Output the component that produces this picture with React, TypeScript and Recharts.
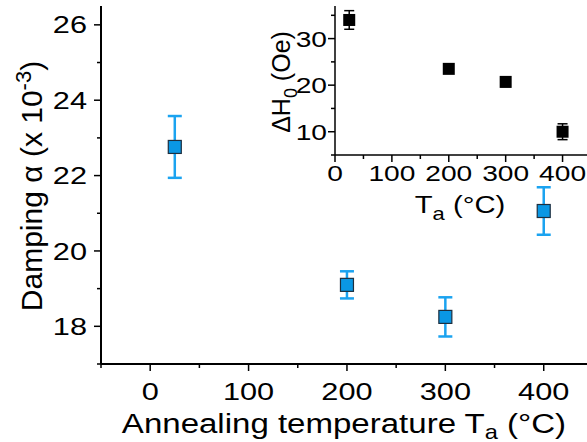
import React from 'react'
import { ScatterChart, Scatter, XAxis, YAxis, ErrorBar } from 'recharts'

// main panel: Gilbert damping vs annealing temperature
const temps = [25, 200, 300, 400]
const damping = [22.76, 19.1, 18.25, 21.06]
const dampingErr = [0.82, 0.36, 0.52, 0.63]

// inset: inhomogeneous linewidth
const insetTemps = [25, 200, 300, 400]
const dH0 = [34.0, 23.5, 20.7, 10.0]
const dH0Err = [2.0, 0.4, 1.0, 1.7]

const mainXTicks = [-50, 0, 50, 100, 150, 200, 250, 300, 350, 400]
const mainYTicks = [17, 18, 19, 20, 21, 22, 23, 24, 25, 26]
const insetXTicks = [0, 50, 100, 150, 200, 250, 300, 350, 400]
const insetYTicks = [5, 10, 15, 20, 25, 30, 35]

const mainData = temps.map((t, i) => ({ t, v: damping[i], e: dampingErr[i] }))
const insetData = insetTemps.map((t, i) => ({ t, v: dH0[i], e: dH0Err[i] }))

const FONT = '"Liberation Sans", Arial, sans-serif'

const WText = ({ x, y, size, sx = 1, sy = 1, rotate = 0, anchor = 'middle', children }: any) => (
  <text
    transform={`translate(${x},${y}) rotate(${rotate}) scale(${sx},${sy})`}
    fontSize={size}
    fontFamily={FONT}
    textAnchor={anchor}
    fill="#000"
  >
    {children}
  </text>
)

// ticks drawn by hand so minor ticks can be shorter
const bottomTick = (major: number, size: number, gap: number) => (p: any) => {
  const isMajor = p.payload.value % major === 0
  return (
    <g>
      <line x1={p.x} x2={p.x} y1={p.y} y2={p.y + (isMajor ? 7 : 4)} stroke="#000" strokeWidth={1.5} />
      {isMajor && (
        <WText x={p.x} y={p.y + gap} size={size} sx={1.28}>
          {p.payload.value}
        </WText>
      )}
    </g>
  )
}

const leftTick = (major: number, size: number, gap: number) => (p: any) => {
  const isMajor = p.payload.value % major === 0
  return (
    <g>
      <line x1={p.x - (isMajor ? 7 : 4)} x2={p.x} y1={p.y} y2={p.y} stroke="#000" strokeWidth={1.5} />
      {isMajor && (
        <WText x={p.x - gap} y={p.y + size * 0.36} size={size} sx={1.28} anchor="end">
          {p.payload.value}
        </WText>
      )}
    </g>
  )
}

const topTick = (major: number) => (p: any) => {
  const isMajor = p.payload.value % major === 0
  return <line x1={p.x} x2={p.x} y1={p.y} y2={p.y + (isMajor ? 7 : 4)} stroke="#000" strokeWidth={1.5} />
}

const rightTick = (major: number) => (p: any) => {
  const isMajor = p.payload.value % major === 0
  return <line x1={p.x - (isMajor ? 7 : 4)} x2={p.x} y1={p.y} y2={p.y} stroke="#000" strokeWidth={1.5} />
}

const BlueSquare = (p: any) => (
  <rect x={p.cx - 6.5} y={p.cy - 6.5} width={13} height={13} fill="#0a97e4" stroke="#1d2f3f" strokeWidth={1.2} />
)

const BlackSquare = (p: any) => <rect x={p.cx - 6} y={p.cy - 6} width={12} height={12} fill="#000" />

export default function App() {
  return (
    <div style={{ position: 'absolute', left: 0, top: 0, width: 587, height: 442, overflow: 'hidden', background: '#fff' }}>
      <div style={{ position: 'absolute', left: 0, top: 0 }}>
        <ScatterChart width={590} height={442} margin={{ top: 6, right: 2, bottom: 0, left: 0 }}>
          <XAxis
            xAxisId="b"
            type="number"
            dataKey="t"
            domain={[-50, 445]}
            ticks={mainXTicks}
            interval={0}
            height={78}
            tickSize={0}
            tickMargin={0}
            tickLine={false}
            axisLine={{ stroke: '#000', strokeWidth: 2 }}
            tick={bottomTick(100, 24, 36)}
            label={() => (
              <WText x={344} y={433} size={28} sx={1.18}>
                Annealing temperature T
                <tspan fontSize={20} dy={6}>a</tspan>
                <tspan dy={-6}> (°C)</tspan>
              </WText>
            )}
          />
          <XAxis
            xAxisId="t"
            orientation="top"
            type="number"
            dataKey="t"
            domain={[-50, 445]}
            ticks={mainXTicks}
            interval={0}
            height={0}
            tickSize={0}
            tickMargin={0}
            tickLine={false}
            axisLine={{ stroke: '#000', strokeWidth: 2 }}
            tick={topTick(100)}
          />
          <YAxis
            yAxisId="l"
            type="number"
            dataKey="v"
            domain={[17, 26.5]}
            ticks={mainYTicks}
            interval={0}
            width={101}
            tickSize={0}
            tickMargin={0}
            tickLine={false}
            axisLine={{ stroke: '#000', strokeWidth: 2 }}
            tick={leftTick(2, 24, 14)}
            label={() => (
              <WText x={42} y={186} size={30} rotate={-90}>
                Damping α (x 10
                <tspan fontSize={22} dy={-11}>-3</tspan>
                <tspan dy={11}>)</tspan>
              </WText>
            )}
          />
          <YAxis
            yAxisId="r"
            orientation="right"
            type="number"
            dataKey="v"
            domain={[17, 26.5]}
            ticks={mainYTicks}
            interval={0}
            width={0}
            tickSize={0}
            tickMargin={0}
            tickLine={false}
            axisLine={{ stroke: '#000', strokeWidth: 2 }}
            tick={rightTick(2)}
          />
          <Scatter xAxisId="b" yAxisId="l" data={mainData} shape={BlueSquare} isAnimationActive={false}>
            <ErrorBar dataKey="e" direction="y" width={7} stroke="#1ba3f0" strokeWidth={2.5} isAnimationActive={false} />
          </Scatter>
        </ScatterChart>
      </div>
      <div style={{ position: 'absolute', left: 250, top: 0 }}>
        <ScatterChart width={350} height={225} margin={{ top: 6, right: 9, bottom: 0, left: 0 }}>
          <XAxis
            type="number"
            dataKey="t"
            domain={[0, 450]}
            ticks={insetXTicks}
            interval={0}
            height={70}
            tickSize={0}
            tickMargin={0}
            tickLine={false}
            axisLine={{ stroke: '#000', strokeWidth: 1.5 }}
            tick={bottomTick(100, 22, 26)}
            label={() => (
              <WText x={210} y={213} size={24} sx={1.22}>
                T
                <tspan fontSize={18} dy={7}>a</tspan>
                <tspan dy={-7}> (°C)</tspan>
              </WText>
            )}
          />
          <YAxis
            type="number"
            dataKey="v"
            domain={[5, 37]}
            ticks={insetYTicks}
            interval={0}
            width={85}
            tickSize={0}
            tickMargin={0}
            tickLine={false}
            axisLine={{ stroke: '#000', strokeWidth: 1.5 }}
            tick={leftTick(10, 22, 8)}
            label={() => (
              <WText x={40} y={82} size={25} rotate={-90}>
                ΔH
                <tspan fontSize={18} dy={7}>0</tspan>
                <tspan dy={-7}> (Oe)</tspan>
              </WText>
            )}
          />
          <Scatter data={insetData} shape={BlackSquare} isAnimationActive={false}>
            <ErrorBar dataKey="e" direction="y" width={5} stroke="#000" strokeWidth={1.5} isAnimationActive={false} />
          </Scatter>
        </ScatterChart>
      </div>
    </div>
  )
}
